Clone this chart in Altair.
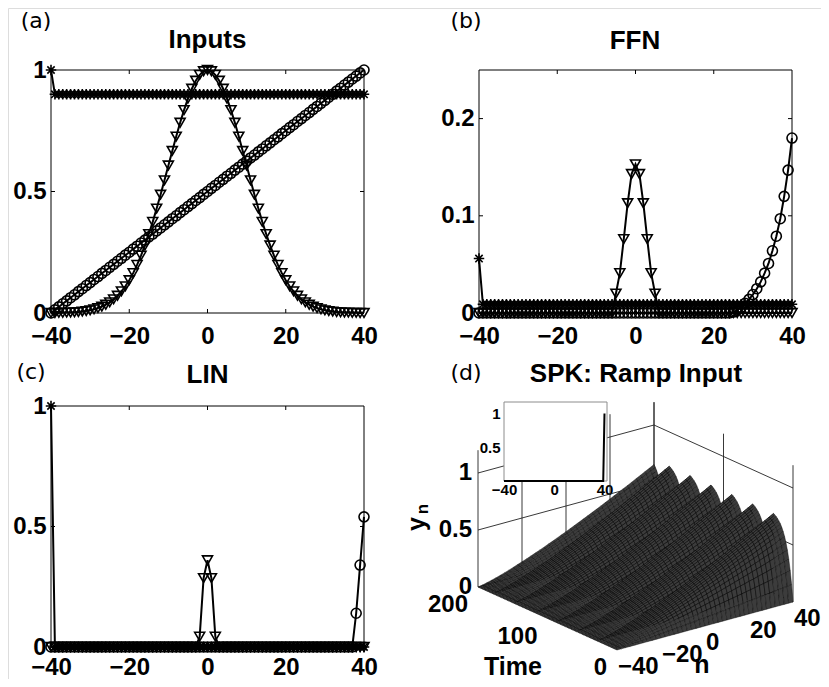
import altair as alt
import pandas as pd

W, H = 813, 671
FONT = "Liberation Sans"

# ---------------- data ----------------
N = list(range(-40, 41))

# (a) Inputs
a_star = [1.0] + [0.9] * 80
a_tri_half = [1.000, 0.995, 0.980, 0.956, 0.923, 0.882, 0.835, 0.783, 0.726, 0.667,
              0.607, 0.546, 0.487, 0.430, 0.375, 0.325, 0.278, 0.236, 0.198, 0.164,
              0.135, 0.110, 0.089, 0.071, 0.056, 0.044, 0.034, 0.026, 0.020, 0.015,
              0.011, 0.008, 0.006, 0.004, 0.003, 0.002, 0.002, 0.001, 0.001, 0.000, 0.000]
a_tri = a_tri_half[:0:-1] + a_tri_half
a_circ = [0.000, 0.013, 0.025, 0.038, 0.050, 0.063, 0.075, 0.088, 0.100, 0.113,
          0.125, 0.138, 0.150, 0.163, 0.175, 0.188, 0.200, 0.213, 0.225, 0.238,
          0.250, 0.263, 0.275, 0.288, 0.300, 0.313, 0.325, 0.338, 0.350, 0.363,
          0.375, 0.388, 0.400, 0.413, 0.425, 0.438, 0.450, 0.463, 0.475, 0.488,
          0.500, 0.513, 0.525, 0.538, 0.550, 0.563, 0.575, 0.588, 0.600, 0.613,
          0.625, 0.638, 0.650, 0.663, 0.675, 0.688, 0.700, 0.713, 0.725, 0.738,
          0.750, 0.763, 0.775, 0.788, 0.800, 0.813, 0.825, 0.838, 0.850, 0.863,
          0.875, 0.888, 0.900, 0.913, 0.925, 0.938, 0.950, 0.963, 0.975, 0.988, 1.000]

# (b) FFN
b_star = [0.056] + [0.009] * 80
b_tri = [0.0] * 35 + [0.020, 0.041, 0.076, 0.113, 0.143, 0.153, 0.143, 0.113, 0.076, 0.041, 0.020] + [0.0] * 35
b_circ = [0.0] * 65 + [0.001, 0.003, 0.006, 0.010, 0.014, 0.019, 0.025, 0.032,
                       0.041, 0.051, 0.064, 0.079, 0.097, 0.120, 0.147, 0.180]

# (c) LIN
c_star = [1.0] + [0.0] * 80
c_tri = [0.0] * 38 + [0.043, 0.286, 0.360, 0.286, 0.043] + [0.0] * 38
c_circ = [0.0] * 78 + [0.14, 0.34, 0.54]

# (d) inset snapshot
inset_y = [0.0] * 80 + [1.0]

# (d) SPK surface
spk_n = list(range(-40, 41, 2))
spk_amp = [0.000, 0.007, 0.017, 0.028, 0.039, 0.052, 0.065, 0.079, 0.094, 0.109,
           0.124, 0.139, 0.155, 0.172, 0.188, 0.205, 0.223, 0.240, 0.258, 0.276,
           0.294, 0.313, 0.332, 0.351, 0.370, 0.389, 0.409, 0.428, 0.448, 0.468,
           0.489, 0.509, 0.530, 0.550, 0.571, 0.592, 0.614, 0.635, 0.657, 0.678, 0.700]
spk_t = list(range(0, 201, 2))
spk_cycle = [0.000, 0.210, 0.376, 0.510, 0.617, 0.700, 0.770, 0.826, 0.870, 0.906,
             0.934, 0.956, 0.974, 0.989, 1.000]
SPK_PERIOD = 30
ZMAX = 1.2

x_ticks = [-40, -20, 0, 20, 40]
x_inner = [-20, 0, 20]
time_ticks = [0, 100, 200]
z_ticks = [0, 0.5, 1]

STAR = "M-1,0L1,0M0,-1L0,1M-0.7,-0.7L0.7,0.7M-0.7,0.7L0.7,-0.7"
UP, DOWN, RIGHT, LEFT = "M0,0L0,-1", "M0,0L0,1", "M0,0L1,0", "M0,0L-1,0"


def lab(v):
    return f"{v:g}".replace("-", "\u2212")


def axis_x(offset, values, size=24, pad=11):
    return alt.Axis(orient="bottom", offset=offset, values=values, format="~r",
                    ticks=False, tickSize=0, domain=False, grid=False,
                    labelFont=FONT, labelFontSize=size, labelFontWeight="bold",
                    labelColor="black", labelPadding=pad, labelFlush=False,
                    labelOverlap=False, labelBound=False)


def axis_y(offset, values, size=24, pad=5):
    return alt.Axis(orient="left", offset=offset, values=values, format="~r",
                    ticks=False, tickSize=0, domain=False, grid=False,
                    labelFont=FONT, labelFontSize=size, labelFontWeight="bold",
                    labelColor="black", labelPadding=pad, labelFlush=False,
                    labelOverlap=False, labelBound=False)


def make_panel(star, tri, circ, xr, ydom, yr, yvals, yinner, xoff, yoff, xpad=11):
    rows = []
    for name, vals in (("star", star), ("tri", tri), ("circ", circ)):
        for n, v in zip(N, vals):
            rows.append({"n": n, "v": v, "s": name})
    df = pd.DataFrame(rows)
    sx = alt.Scale(domain=[-40, 40], range=xr, nice=False, zero=False)
    sy = alt.Scale(domain=ydom, range=yr, nice=False, zero=False)
    ax = axis_x(xoff, x_ticks, pad=xpad)
    ay = axis_y(yoff, yvals)

    def enc(xf, yf):
        return dict(x=alt.X(xf, type="quantitative", scale=sx, axis=ax, title=None),
                    y=alt.Y(yf, type="quantitative", scale=sy, axis=ay, title=None))

    frame = alt.Chart(pd.DataFrame({"x0": [-40], "x1": [40], "y0": [ydom[0]], "y1": [ydom[1]]})).mark_rect(
        fillOpacity=0, stroke="black", strokeWidth=1).encode(**enc("x0", "y0"), x2="x1", y2="y1")
    layers = [frame]
    tick_sets = [
        (pd.DataFrame({"x": x_inner, "y": [ydom[0]] * len(x_inner)}), UP),
        (pd.DataFrame({"x": x_inner, "y": [ydom[1]] * len(x_inner)}), DOWN),
        (pd.DataFrame({"x": [-40] * len(yinner), "y": yinner}), RIGHT),
        (pd.DataFrame({"x": [40] * len(yinner), "y": yinner}), LEFT),
    ]
    for tdf, shp in tick_sets:
        layers.append(alt.Chart(tdf).mark_point(shape=shp, size=64, filled=False, color="black",
                                                strokeWidth=1, opacity=1).encode(**enc("x", "y")))
    layers.append(alt.Chart(df).mark_line(color="black", strokeWidth=2).encode(**enc("n", "v"), detail="s:N"))
    for name, shp, size in (("star", STAR, 110), ("tri", "triangle-down", 100), ("circ", "circle", 100)):
        layers.append(alt.Chart(df).transform_filter(alt.datum.s == name).mark_point(
            shape=shp, size=size, filled=False, color="black", strokeWidth=1.6, opacity=1
        ).encode(**enc("n", "v")))
    return alt.layer(*layers)


panel_a = make_panel(a_star, a_tri, a_circ, [43, 356], [0, 1], [305, 62], [0, 0.5, 1], [0.5], 305 - H, -43)
panel_b = make_panel(b_star, b_tri, b_circ, [471, 784], [0, 0.25], [305, 62], [0, 0.1, 0.2], [0.1, 0.2], 305 - H, -471)
panel_c = make_panel(c_star, c_tri, c_circ, [43, 356], [0, 1], [639, 398], [0, 0.5, 1], [0.5], 639 - H, -43, xpad=8)

# ---------------- 3D panel (d) ----------------
ORIGIN = (609.0, 642.0)   # screen point of n=-40, t=0, y=0
N_VEC = (176.0, -48.0)     # screen shift over the full n range
T_VEC = (-139.0, -63.0)    # screen shift over the full time range
Z_PIX = 114.0              # screen pixels per unit of y_n


def proj(n, t, z):
    u = (n + 40) / 80.0
    v = t / 200.0
    return (round(ORIGIN[0] + N_VEC[0] * u + T_VEC[0] * v, 2),
            round(ORIGIN[1] + N_VEC[1] * u + T_VEC[1] * v - Z_PIX * z, 2))


Z = [[spk_amp[j] * spk_cycle[(t % SPK_PERIOD) // 2] for j in range(len(spk_n))] for t in spk_t]

surf_rows = []
cid = 0
for i in reversed(range(len(spk_t) - 1)):
    for j in range(len(spk_n) - 1):
        corners = [(j, i), (j + 1, i), (j + 1, i + 1), (j, i + 1), (j, i)]
        for k, (jj, ii) in enumerate(corners):
            px, py = proj(spk_n[jj], spk_t[ii], Z[ii][jj])
            surf_rows.append({"cell": cid, "k": k, "px": px, "py": py})
        cid += 1
surf_df = pd.DataFrame(surf_rows)

segs = []
for n in x_ticks:
    segs.append(proj(n, 200, 0) + proj(n, 200, ZMAX))
for z in z_ticks:
    segs.append(proj(-40, 200, z) + proj(40, 200, z))
for t in time_ticks:
    segs.append(proj(40, t, 0) + proj(40, t, ZMAX))
for z in z_ticks:
    segs.append(proj(40, 0, z) + proj(40, 200, z))
seg_df = pd.DataFrame(segs, columns=["x", "y", "x2", "y2"])

sx3 = alt.Scale(domain=[0, W], range=[0, W], nice=False, zero=False)
sy3 = alt.Scale(domain=[0, H], range=[0, H], nice=False, zero=False)


def e3(xf="px", yf="py"):
    return dict(x=alt.X(xf, type="quantitative", scale=sx3, axis=None),
                y=alt.Y(yf, type="quantitative", scale=sy3, axis=None))


grid3 = alt.Chart(seg_df).mark_rule(color="#222222", strokeWidth=0.9).encode(
    **e3("x", "y"), x2="x2", y2="y2")
surface = alt.Chart(surf_df).mark_line(fill="#3c3c3c", stroke="#000000", strokeWidth=0.4).encode(
    **e3(), detail="cell:N", order="k:Q")

tl = pd.DataFrame([dict(zip(["px", "py"], proj(-40, t, 0)), lab=lab(t)) for t in time_ticks])
nl = pd.DataFrame([dict(zip(["px", "py"], proj(n, 0, 0)), lab=lab(n)) for n in x_ticks])
zl = pd.DataFrame([dict(zip(["px", "py"], proj(-40, 200, z)), lab=lab(z)) for z in z_ticks])
tfont = dict(font=FONT, fontSize=24, fontWeight="bold", color="black")
time_labels = alt.Chart(tl).mark_text(align="right", baseline="middle", dx=-10, dy=18, **tfont).encode(**e3(), text="lab:N")
n_labels = alt.Chart(nl).mark_text(align="left", baseline="middle", dx=1, dy=17, **tfont).encode(**e3(), text="lab:N")
z_labels = alt.Chart(zl).mark_text(align="right", baseline="middle", dx=-6, dy=0, **tfont).encode(**e3(), text="lab:N")

panel_d = alt.layer(grid3, surface, time_labels, n_labels, z_labels)

# inset
sxi = alt.Scale(domain=[-40, 42], range=[496, 599], nice=False, zero=False)
syi = alt.Scale(domain=[0, 1.17], range=[473, 394], nice=False, zero=False)
axi = axis_x(473 - H, [-40, 0, 40], size=15, pad=1)
ayi = axis_y(-496, [0.5, 1], size=15, pad=4)


def ei(xf, yf):
    return dict(x=alt.X(xf, type="quantitative", scale=sxi, axis=axi, title=None),
                y=alt.Y(yf, type="quantitative", scale=syi, axis=ayi, title=None))


inset_frame = alt.Chart(pd.DataFrame({"x0": [-40], "x1": [42], "y0": [0], "y1": [1.17]})).mark_rect(
    fill="white", stroke="#8c8c8c", strokeWidth=1).encode(**ei("x0", "y0"), x2="x1", y2="y1")
inset_line = alt.Chart(pd.DataFrame({"n": N, "v": inset_y})).mark_line(color="black", strokeWidth=2).encode(**ei("n", "v"))
inset = alt.layer(inset_frame, inset_line)


# ---------------- annotations ----------------
def text(s, x, y, size=24, weight="bold", font=FONT, angle=0, align="center"):
    return alt.Chart(pd.DataFrame({"lab": [s]})).mark_text(
        font=font, fontSize=size, fontWeight=weight, color="black", angle=angle,
        align=align, baseline="middle").encode(x=alt.value(x), y=alt.value(y), text="lab:N")


notes = [
    text("(a)", 28, 13, 22, "normal", "DejaVu Sans"),
    text("(b)", 458, 13, 22, "normal", "DejaVu Sans"),
    text("(c)", 23, 364, 22, "normal", "DejaVu Sans"),
    text("(d)", 458, 365, 22, "normal", "DejaVu Sans"),
    text("Inputs", 199.5, 32, 26),
    text("FFN", 627, 33, 26),
    text("LIN", 199.5, 367, 26),
    text("SPK: Ramp Input", 628, 366, 26),
    text("Time", 505, 659, 25),
    text("n", 694, 657, 25),
    text("y", 409, 516, 25, angle=270),
    text("n", 415, 501, 17, angle=270),
]

chart = alt.layer(panel_a, panel_b, panel_c, panel_d, inset, *notes).resolve_scale(
    x="independent", y="independent"
).properties(
    width=W, height=H, padding=0, autosize=alt.AutoSizeParams(type="none")
).configure_view(strokeWidth=0).configure(background="white")

chart.save("out.html", embed_options={"renderer": "svg", "actions": False})
